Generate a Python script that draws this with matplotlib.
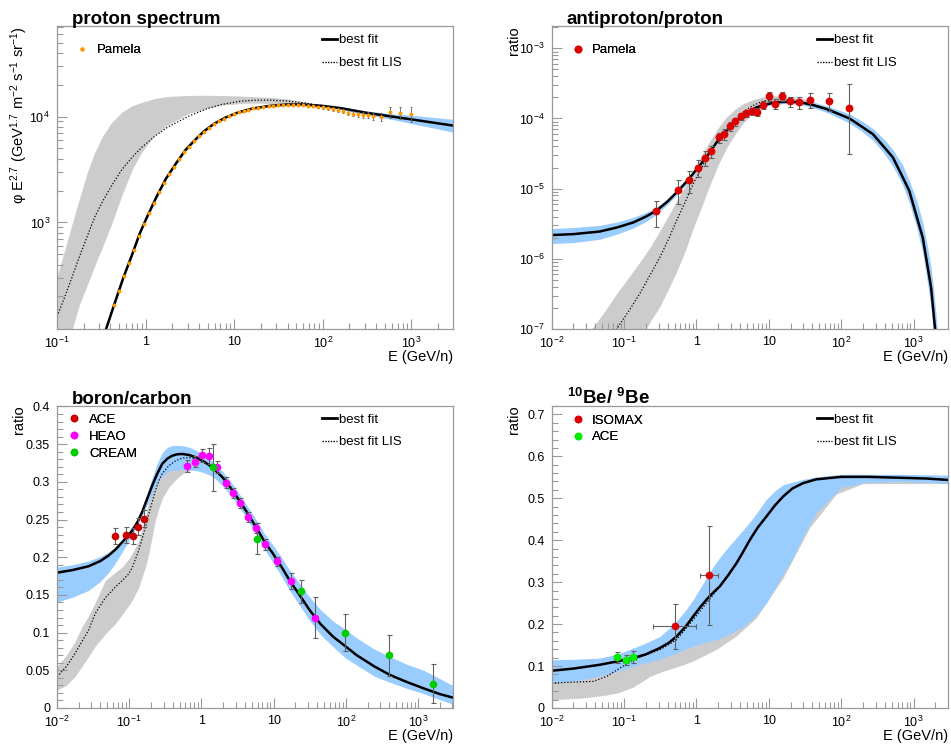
import numpy as np
import matplotlib
matplotlib.use("Agg")
import matplotlib.pyplot as plt
from matplotlib.ticker import FixedLocator, FuncFormatter, LogLocator, MultipleLocator, NullFormatter
from matplotlib.lines import Line2D

plt.rcParams["font.family"] = ["Liberation Sans", "DejaVu Sans"]
plt.rcParams["mathtext.fontset"] = "custom"
plt.rcParams["mathtext.rm"] = "Liberation Sans"
plt.rcParams["mathtext.it"] = "Liberation Sans:italic"
plt.rcParams["mathtext.bf"] = "Liberation Sans:bold"
plt.rcParams["mathtext.default"] = "regular"

GRAY = "#cccccc"
BLUE = "#99ccff"
FRAME = "#999999"
ERRC = "#606060"

# ---------------- proton spectrum ----------------
p_fit_E = [0.36, 0.45, 0.56, 0.7, 0.86, 1.05, 1.33, 1.7, 2.2, 2.8, 3.6, 4.6, 6.0, 8.0, 11, 16, 25, 40, 60, 100, 160, 300, 600, 1000, 3000]
p_fit = [100, 175, 300, 490, 790, 1150, 1750, 2600, 3600, 4800, 6000, 7300, 8600, 9800, 10900, 11900, 12600, 13000, 13000, 12600, 12000, 10900, 10000, 9400, 8200]
p_fit_hi = [104, 182, 311, 506, 814, 1185, 1800, 2670, 3690, 4920, 6140, 7460, 8780, 10000, 11100, 12100, 12800, 13200, 13250, 12900, 12350, 11350, 10600, 10300, 9400]
p_fit_lo = [96, 168, 289, 474, 766, 1115, 1700, 2530, 3510, 4680, 5860, 7140, 8420, 9600, 10700, 11700, 12400, 12800, 12750, 12300, 11650, 10450, 9400, 8600, 7100]

p_lis_E = [0.1, 0.12, 0.147, 0.18, 0.225, 0.27, 0.33, 0.41, 0.54, 0.7, 0.9, 1.27, 1.8, 3.0, 5, 7.2, 12, 17, 25, 40, 60, 100]
p_lis = [130, 190, 300, 480, 780, 1150, 1600, 2200, 3160, 4100, 5100, 6520, 8000, 10000, 11900, 13000, 14000, 14250, 14300, 14000, 13500, 12600]
p_lis_hi = [310, 520, 950, 1700, 3160, 4700, 6600, 8700, 11000, 12600, 13600, 14800, 15500, 15800, 15900, 15800, 15600, 15400, 15200, 14700, 13800, 12800]
p_lis_lo = [55, 75, 95, 170, 270, 400, 600, 950, 1800, 3100, 4600, 6700, 8400, 10600, 12000, 12800, 13300, 13400, 13300, 13200, 13000, 12500]

pam_E = [0.44, 0.50, 0.57, 0.65, 0.74, 0.84, 0.96, 1.09, 1.24, 1.41, 1.61, 1.83, 2.08, 2.37, 2.70, 3.07, 3.50, 3.98, 4.53,
         5.16, 5.87, 6.68, 7.60, 8.65, 9.85, 11.2, 12.8, 14.5, 16.5, 18.8, 21.4, 24.4, 27.7, 31.6, 36.0, 41.0, 46.6, 53.0,
         60.4, 68.7, 78.2, 89.0, 101, 115, 131, 150, 170, 194, 220, 251, 286, 325, 370, 450, 580, 740, 1000]
pam_flux = [165, 227, 311, 411, 547, 738, 966, 1230, 1540, 1920, 2380, 2860, 3360, 3940, 4590, 5210, 5850, 6500, 7200,
            7830, 8480, 9020, 9580, 10070, 10500, 10930, 11290, 11640, 11960, 12170, 12360, 12570, 12680, 12790, 12910,
            12950, 12950, 12900, 12850, 12700, 12550, 12300, 12200, 12000, 11800, 11500, 11200, 10900, 10600, 10500,
            10400, 10300, 10100, 9900, 11000, 10900, 10500]
pam_err = [3, 4, 5, 6, 8, 10, 13, 16, 20, 25, 30, 35, 40, 45, 52, 58, 65, 72, 80, 87, 95, 100, 108, 115, 122, 130, 138,
           145, 152, 160, 170, 180, 190, 200, 215, 230, 245, 260, 280, 300, 330, 360, 390, 420, 450, 480, 510, 540, 570,
           600, 640, 690, 740, 800, 1300, 1500, 1700]

# ---------------- antiproton / proton ----------------
pb_fit_E = [0.01, 0.02, 0.046, 0.08, 0.134, 0.2, 0.28, 0.4, 0.557, 0.75, 1.05, 1.4, 1.89, 2.6, 3.56, 5.0, 6.7, 9.0,
            12.7, 18, 26.6, 40, 62, 90, 130, 190, 273, 380, 515, 700, 870, 1100, 1336, 1550, 1740, 1880, 1990, 2100]
pb_fit = [2.18e-6, 2.25e-6, 2.45e-6, 2.8e-6, 3.3e-6, 4.0e-6, 4.85e-6, 6.6e-6, 9.3e-6, 1.3e-5, 2.0e-5, 2.9e-5, 4.55e-5,
          6.7e-5, 9.4e-5, 1.19e-4, 1.44e-4, 1.58e-4, 1.71e-4, 1.73e-4, 1.71e-4, 1.56e-4, 1.37e-4, 1.17e-4, 1.0e-4,
          7.7e-5, 6.0e-5, 4.04e-5, 2.8e-5, 1.48e-5, 9.3e-6, 4.0e-6, 2.0e-6, 8.0e-7, 3.9e-7, 1.7e-7, 9.3e-8, 4.5e-8]
pb_fit_hi = [2.7e-6, 2.8e-6, 3.0e-6, 3.35e-6, 3.9e-6, 4.6e-6, 5.4e-6, 7.2e-6, 1.0e-5, 1.38e-5, 2.1e-5, 3.0e-5, 4.7e-5,
             6.95e-5, 9.7e-5, 1.26e-4, 1.5e-4, 1.68e-4, 1.8e-4, 1.83e-4, 1.82e-4, 1.7e-4, 1.52e-4, 1.33e-4, 1.16e-4,
             9.3e-5, 7.2e-5, 5.2e-5, 3.6e-5, 2.2e-5, 1.3e-5, 6.8e-6, 3.3e-6, 1.5e-6, 7.5e-7, 3.8e-7, 2.1e-7, 1.1e-7]
pb_fit_lo = [1.65e-6, 1.7e-6, 1.9e-6, 2.25e-6, 2.75e-6, 3.4e-6, 4.3e-6, 6.0e-6, 8.6e-6, 1.22e-5, 1.9e-5, 2.8e-5, 4.4e-5,
             6.5e-5, 9.1e-5, 1.13e-4, 1.38e-4, 1.52e-4, 1.62e-4, 1.64e-4, 1.6e-4, 1.43e-4, 1.23e-4, 1.03e-4, 8.6e-5,
             6.6e-5, 4.9e-5, 3.3e-5, 2.1e-5, 1.15e-5, 6.3e-6, 2.8e-6, 1.2e-6, 4.6e-7, 2.0e-7, 8.5e-8, 4e-8, 2e-8]

pb_lis_E = [0.03, 0.05, 0.079, 0.12, 0.165, 0.227, 0.312, 0.42, 0.53, 0.7, 0.9, 1.15, 1.52, 2.0, 2.6, 3.4, 4.4, 6.0,
            8.3, 11.5, 15.7, 22, 30, 45, 70, 100]
pb_lis = [1.8e-8, 4.5e-8, 1.0e-7, 1.9e-7, 3.2e-7, 5.8e-7, 1.05e-6, 2.0e-6, 3.5e-6, 6.5e-6, 1.17e-5, 1.9e-5, 3.2e-5,
          4.9e-5, 7.1e-5, 9.5e-5, 1.23e-4, 1.53e-4, 1.77e-4, 1.86e-4, 1.87e-4, 1.82e-4, 1.72e-4, 1.53e-4, 1.32e-4, 1.13e-4]
pb_lis_hi = [8e-8, 1.6e-7, 3.2e-7, 5.7e-7, 9e-7, 1.45e-6, 2.5e-6, 4.3e-6, 6.7e-6, 1.1e-5, 1.75e-5, 2.9e-5, 4.7e-5,
             7.4e-5, 1.05e-4, 1.35e-4, 1.62e-4, 1.85e-4, 2.03e-4, 2.1e-4, 2.1e-4, 2.05e-4, 1.92e-4, 1.68e-4, 1.4e-4, 1.16e-4]
pb_lis_lo = [5e-9, 1e-8, 2e-8, 4e-8, 7e-8, 1.25e-7, 2.1e-7, 3.9e-7, 6.5e-7, 1.3e-6, 2.7e-6, 5.2e-6, 1.1e-5, 2.2e-5,
             3.8e-5, 5.9e-5, 8.6e-5, 1.2e-4, 1.45e-4, 1.58e-4, 1.63e-4, 1.62e-4, 1.55e-4, 1.4e-4, 1.22e-4, 1.05e-4]

pbd_E = [0.278, 0.547, 0.79, 1.05, 1.31, 1.59, 2.03, 2.4, 2.88, 3.45, 4.09, 4.9, 5.8, 6.9, 8.3, 9.9, 12.3, 15, 19.4,
         26, 37, 67, 127]
pbd_val = [4.74e-6, 9.7e-6, 1.32e-5, 2.0e-5, 2.75e-5, 3.4e-5, 5.4e-5, 6.0e-5, 7.8e-5, 9.1e-5, 1.07e-4, 1.19e-4,
           1.26e-4, 1.23e-4, 1.57e-4, 2.08e-4, 1.62e-4, 2.08e-4, 1.75e-4, 1.69e-4, 1.85e-4, 1.79e-4, 1.41e-4]
pbd_err_lo = [1.9e-6, 3.6e-6, 4.5e-6, 5.5e-6, 6.5e-6, 7e-6, 9e-6, 1e-5, 1.1e-5, 1.2e-5, 1.3e-5, 1.4e-5, 1.5e-5,
              1.6e-5, 1.9e-5, 3.2e-5, 2.6e-5, 3.3e-5, 3e-5, 3.3e-5, 4.3e-5, 5.3e-5, 1.1e-4]
pbd_err_hi = [1.9e-6, 3.6e-6, 4.5e-6, 5.5e-6, 6.5e-6, 7e-6, 9e-6, 1e-5, 1.1e-5, 1.2e-5, 1.3e-5, 1.4e-5, 1.5e-5,
              1.6e-5, 1.9e-5, 3.2e-5, 2.6e-5, 3.3e-5, 3e-5, 3.3e-5, 4.3e-5, 5.3e-5, 1.7e-4]

# ---------------- boron / carbon ----------------
bc_fit_E = [0.01, 0.0165, 0.0273, 0.04, 0.052, 0.065, 0.08, 0.095, 0.11, 0.13, 0.151, 0.178, 0.208, 0.245, 0.287,
            0.34, 0.395, 0.46, 0.545, 0.68, 0.836, 1.1, 1.43, 2.0, 2.71, 4.0, 5.7, 7.5, 9.8, 13, 16.6, 23, 31.6, 45,
            67, 100, 141, 250, 411, 700, 1200, 2000, 3300]
bc_fit = [0.1795, 0.183, 0.188, 0.195, 0.2024, 0.2105, 0.22, 0.228, 0.2355, 0.2465, 0.26, 0.278, 0.295, 0.311, 0.324,
          0.331, 0.3347, 0.3365, 0.337, 0.3355, 0.3325, 0.3265, 0.319, 0.305, 0.2885, 0.264, 0.24, 0.2205, 0.2047,
          0.1865, 0.1694, 0.1495, 0.1297, 0.111, 0.0944, 0.0815, 0.0701, 0.055, 0.0437, 0.0345, 0.026, 0.0185, 0.0128]
bc_fit_hi = [0.187, 0.19, 0.195, 0.201, 0.207, 0.214, 0.222, 0.23, 0.238, 0.25, 0.265, 0.285, 0.305, 0.325, 0.339,
             0.346, 0.348, 0.3485, 0.348, 0.346, 0.342, 0.335, 0.327, 0.313, 0.297, 0.273, 0.25, 0.231, 0.216, 0.199,
             0.183, 0.165, 0.147, 0.13, 0.115, 0.104, 0.093, 0.078, 0.068, 0.058, 0.05, 0.039, 0.028]
bc_fit_lo = [0.1406, 0.147, 0.156, 0.168, 0.18, 0.193, 0.207, 0.219, 0.23, 0.243, 0.255, 0.27, 0.284, 0.298, 0.308,
             0.313, 0.315, 0.3155, 0.316, 0.316, 0.315, 0.312, 0.307, 0.294, 0.279, 0.255, 0.23, 0.21, 0.193, 0.174,
             0.156, 0.136, 0.116, 0.097, 0.081, 0.066, 0.057, 0.042, 0.034, 0.026, 0.019, 0.011, 0.004]

bc_lis_E = [0.01, 0.0135, 0.0178, 0.0221, 0.0273, 0.0338, 0.0466, 0.0643, 0.08, 0.0985, 0.11, 0.1356, 0.168, 0.187,
            0.23, 0.258, 0.287, 0.355, 0.44, 0.545, 0.7, 0.93, 1.3, 2.0]
bc_lis = [0.0414, 0.055, 0.0724, 0.088, 0.103, 0.1253, 0.146, 0.1605, 0.169, 0.178, 0.186, 0.209, 0.24, 0.2576, 0.288,
          0.3017, 0.311, 0.3215, 0.328, 0.3317, 0.332, 0.329, 0.322, 0.305]
bc_lis_hi = [0.0547, 0.07, 0.088, 0.1076, 0.122, 0.14, 0.169, 0.18, 0.187, 0.198, 0.205, 0.222, 0.255, 0.275, 0.298,
             0.306, 0.3126, 0.318, 0.3237, 0.327, 0.329, 0.327, 0.322, 0.306]
bc_lis_lo = [0.0238, 0.03, 0.042, 0.055, 0.068, 0.082, 0.098, 0.112, 0.124, 0.136, 0.143, 0.16, 0.187, 0.205, 0.249,
             0.265, 0.278, 0.293, 0.303, 0.3105, 0.315, 0.317, 0.316, 0.302]

ace_bc_E = [0.0645, 0.089, 0.113, 0.133, 0.158]
ace_bc = [0.228, 0.2293, 0.228, 0.2405, 0.251]
ace_bc_err = [0.011, 0.011, 0.011, 0.011, 0.011]
heao_E = [0.64, 0.817, 1.01, 1.28, 1.65, 2.19, 2.74, 3.46, 4.47, 5.78, 7.7, 11.2, 17.2, 37]
heao = [0.3206, 0.3268, 0.3352, 0.3343, 0.3193, 0.299, 0.285, 0.2717, 0.2536, 0.239, 0.217, 0.1945, 0.1685, 0.12]
heao_err = [0.008, 0.007, 0.009, 0.01, 0.008, 0.007, 0.007, 0.007, 0.007, 0.007, 0.007, 0.006, 0.01, 0.027]
cream_E = [1.43, 5.9, 24.3, 97, 394, 1590]
cream = [0.3193, 0.2245, 0.1548, 0.1, 0.0701, 0.0322]
cream_err = [0.031, 0.0205, 0.015, 0.025, 0.027, 0.026]

# ---------------- 10Be / 9Be ----------------
be_fit_E = [0.01, 0.02, 0.046, 0.08, 0.134, 0.2, 0.312, 0.42, 0.53, 0.7, 0.898, 1.1, 1.37, 1.7, 2.1, 2.7, 3.56, 4.4,
            5.43, 7.0, 9.2, 12, 15.7, 21, 29.7, 45, 100, 230, 600, 1500, 2950]
be_fit = [0.0888, 0.094, 0.103, 0.111, 0.119, 0.128, 0.143, 0.156, 0.1705, 0.193, 0.218, 0.238, 0.258, 0.275, 0.29,
          0.315, 0.345, 0.372, 0.40, 0.43, 0.456, 0.482, 0.504, 0.523, 0.536, 0.545, 0.551, 0.551, 0.549, 0.547, 0.5437]
be_fit_hi = [0.115, 0.116, 0.119, 0.128, 0.143, 0.155, 0.1705, 0.19, 0.207, 0.232, 0.258, 0.283, 0.31, 0.337, 0.359,
             0.382, 0.406, 0.4245, 0.443, 0.468, 0.497, 0.517, 0.532, 0.538, 0.545, 0.551, 0.557, 0.557, 0.557, 0.556, 0.555]
be_fit_lo = [0.0595, 0.064, 0.076, 0.087, 0.1, 0.107, 0.117, 0.125, 0.131, 0.14, 0.147, 0.152, 0.157, 0.161, 0.166,
             0.175, 0.185, 0.194, 0.207, 0.225, 0.25, 0.285, 0.32, 0.355, 0.41, 0.465, 0.526, 0.538, 0.54, 0.538, 0.535]

be_band_E = [0.01, 0.0273, 0.0375, 0.0574, 0.079, 0.0876, 0.134, 0.227, 0.312, 0.53, 0.653, 0.898, 1.37, 1.89, 3.56,
             6.7, 15.7, 36.6, 85, 200, 3000]
be_lis_hi = [0.075, 0.076, 0.078, 0.085, 0.098, 0.1, 0.12, 0.13, 0.14, 0.16, 0.175, 0.2, 0.24, 0.27, 0.33, 0.41, 0.5,
             0.54, 0.55, 0.552, 0.55]
be_lis_lo = [0.0198, 0.0238, 0.027, 0.031, 0.0357, 0.038, 0.05, 0.075, 0.085, 0.098, 0.103, 0.112, 0.128, 0.14, 0.172,
             0.215, 0.31, 0.43, 0.51, 0.535, 0.535]
be_lis_E = [0.01, 0.0375, 0.0574, 0.0876, 0.134, 0.2, 0.312, 0.53, 0.898, 1.37, 1.9, 2.1]
be_lis = [0.0595, 0.0635, 0.0752, 0.0952, 0.115, 0.127, 0.1388, 0.1626, 0.21, 0.25, 0.28, 0.29]

isomax_E = [0.507, 1.51]
isomax = [0.1943, 0.3167]
isomax_yerr = [0.053, 0.118]
isomax_xlo = [0.255, 0.375]
isomax_xhi = [0.493, 0.48]
ace_be_E = [0.081, 0.107, 0.132]
ace_be = [0.1214, 0.1143, 0.1214]
ace_be_yerr = [0.013, 0.012, 0.015]
ace_be_xerr = [0.008, 0.01, 0.012]


def decade_label(v, pos):
    if np.isclose(v, 1):
        return "1"
    if np.isclose(v, 10):
        return "10"
    return r"$10^{%d}$" % int(round(np.log10(v)))


def style_axes(ax):
    for s in ax.spines.values():
        s.set_color(FRAME)
        s.set_linewidth(0.9)
    ax.tick_params(which="both", direction="in", top=False, right=False, colors=FRAME,
                   labelcolor="black", labelsize=9)
    ax.tick_params(which="major", length=7, width=0.8)
    ax.tick_params(which="minor", length=4, width=0.8)
    ax.tick_params(axis="x", pad=5)
    ax.tick_params(axis="y", pad=5)


def log_xaxis(ax, lo, hi, majors):
    ax.set_xscale("log")
    ax.set_xlim(lo, hi)
    ax.xaxis.set_major_locator(FixedLocator(majors))
    ax.xaxis.set_major_formatter(FuncFormatter(decade_label))
    ax.xaxis.set_minor_locator(LogLocator(base=10, subs=range(2, 10), numticks=50))
    ax.xaxis.set_minor_formatter(NullFormatter())
    ax.set_xlabel("E (GeV/n)", fontsize=10.5, loc="right")
    ax.xaxis.set_label_coords(1.0, -0.068)


def labels(ax, title, ylabel, ypos=-0.078):
    ax.text(0.038, 1.006, title, transform=ax.transAxes, fontsize=13.5, fontweight="bold",
            ha="left", va="baseline")
    ax.set_ylabel(ylabel, fontsize=10.5, loc="top")
    ax.yaxis.set_label_coords(ypos, 1.0)


def fit_legend(ax, x0, y0, spacing):
    h = [Line2D([], [], color="black", lw=2.0), Line2D([], [], color="black", lw=1.0, ls=(0, (1, 1)))]
    leg = ax.legend(h, ["best fit", "best fit LIS"], loc="upper left", bbox_to_anchor=(x0, y0),
                    frameon=False, fontsize=9.5, handlelength=1.15, handletextpad=0.15, borderpad=0,
                    borderaxespad=0, labelspacing=spacing)
    ax.add_artist(leg)


def data_legend(ax, handles, names, x0, y0, spacing, pad):
    leg = ax.legend(handles, names, loc="upper left", bbox_to_anchor=(x0, y0), frameon=False, fontsize=9.5,
                    handlelength=1.0, handletextpad=pad, borderpad=0, borderaxespad=0, labelspacing=spacing)
    ax.add_artist(leg)


fig = plt.figure(figsize=(9.51, 7.47), dpi=100)
W, H = 951.0, 747.0


def make_axes(left, top, right, bottom):
    return fig.add_axes([left / W, 1 - bottom / H, (right - left) / W, (bottom - top) / H])


ax1 = make_axes(57, 26, 453, 329)
ax2 = make_axes(551.7, 26, 948, 329)
ax3 = make_axes(57, 405.7, 453, 708)
ax4 = make_axes(551.7, 405.7, 948, 708)

# --- panel 1
ax = ax1
ax.fill_between(p_lis_E, p_lis_lo, p_lis_hi, color=GRAY, lw=0)
ax.fill_between(p_fit_E, p_fit_lo, p_fit_hi, color=BLUE, lw=0)
ax.plot(p_lis_E, p_lis, color="black", lw=0.9, ls=(0, (1, 1.5)))
ax.plot(p_fit_E, p_fit, color="black", lw=1.8)
ax.errorbar(pam_E, pam_flux, yerr=pam_err, fmt="o", ms=1.8, color="#ff9900", mec="#ff9900",
            ecolor=ERRC, elinewidth=0.6, capsize=1.0, capthick=0.6, zorder=5)
ax.set_yscale("log")
ax.set_ylim(98.6, 71600)
ax.yaxis.set_major_locator(FixedLocator([1e3, 1e4]))
ax.yaxis.set_major_formatter(FuncFormatter(decade_label))
ax.yaxis.set_minor_locator(LogLocator(base=10, subs=range(2, 10), numticks=50))
ax.yaxis.set_minor_formatter(NullFormatter())
log_xaxis(ax, 0.1, 2950, [0.1, 1, 10, 100, 1000])
labels(ax, "proton spectrum", r"φ E$^{2.7}$ (GeV$^{1.7}$ m$^{-2}$ s$^{-1}$ sr$^{-1}$)", -0.068)
fit_legend(ax, 0.669, 0.973, 0.81)
data_legend(ax, [Line2D([], [], ls="none", marker="o", ms=2.0, color="#ff9900")], ["Pamela"],
            0.046, 0.940, 0.1, 0.64)
style_axes(ax)

# --- panel 2
ax = ax2
ax.fill_between(pb_lis_E, pb_lis_lo, pb_lis_hi, color=GRAY, lw=0)
ax.fill_between(pb_fit_E, pb_fit_lo, pb_fit_hi, color=BLUE, lw=0)
ax.plot(pb_lis_E, pb_lis, color="black", lw=0.9, ls=(0, (1, 1.5)))
ax.plot(pb_fit_E, pb_fit, color="black", lw=1.8)
ax.errorbar(pbd_E, pbd_val, yerr=[pbd_err_lo, pbd_err_hi], fmt="o", ms=4.6, color="#dd0000", mec="#dd0000",
            ecolor=ERRC, elinewidth=0.8, capsize=1.8, capthick=0.8, zorder=5)
ax.set_yscale("log")
ax.set_ylim(1e-7, 2.08e-3)
ax.yaxis.set_major_locator(FixedLocator([1e-7, 1e-6, 1e-5, 1e-4, 1e-3]))
ax.yaxis.set_major_formatter(FuncFormatter(decade_label))
ax.yaxis.set_minor_locator(LogLocator(base=10, subs=range(2, 10), numticks=50))
ax.yaxis.set_minor_formatter(NullFormatter())
log_xaxis(ax, 0.01, 2980, [0.01, 0.1, 1, 10, 100, 1000])
labels(ax, "antiproton/proton", "ratio")
fit_legend(ax, 0.669, 0.973, 0.81)
data_legend(ax, [Line2D([], [], ls="none", marker="o", ms=4.6, color="#dd0000")], ["Pamela"],
            0.049, 0.940, 0.1, 0.58)
style_axes(ax)

# --- panel 3
ax = ax3
ax.fill_between(bc_lis_E, bc_lis_lo, bc_lis_hi, color=GRAY, lw=0)
ax.fill_between(bc_fit_E, bc_fit_lo, bc_fit_hi, color=BLUE, lw=0)
ax.plot(bc_lis_E, bc_lis, color="black", lw=0.9, ls=(0, (1, 1.5)))
ax.plot(bc_fit_E, bc_fit, color="black", lw=1.8)
for xs, ys, es, c in [(ace_bc_E, ace_bc, ace_bc_err, "#cc0000"), (heao_E, heao, heao_err, "#ff00ff"),
                      (cream_E, cream, cream_err, "#00cc00")]:
    ax.errorbar(xs, ys, yerr=es, fmt="o", ms=4.5, color=c, mec=c, ecolor=ERRC, elinewidth=0.8,
                capsize=1.8, capthick=0.8, zorder=5)
ax.set_ylim(0, 0.401)
ax.yaxis.set_major_locator(MultipleLocator(0.05))
ax.yaxis.set_minor_locator(MultipleLocator(0.01))
ax.yaxis.set_major_formatter(FuncFormatter(lambda v, p: "0" if abs(v) < 1e-9 else ("%g" % round(v, 2))))
log_xaxis(ax, 0.01, 3050, [0.01, 0.1, 1, 10, 100, 1000])
labels(ax, "boron/carbon", "ratio")
fit_legend(ax, 0.669, 0.973, 0.75)
data_legend(ax, [Line2D([], [], ls="none", marker="o", ms=4.5, color=c) for c in ["#cc0000", "#ff00ff", "#00cc00"]],
            ["ACE", "HEAO", "CREAM"], 0.026, 0.973, 0.34, 0.64)
style_axes(ax)

# --- panel 4
ax = ax4
ax.fill_between(be_band_E, be_lis_lo, be_lis_hi, color=GRAY, lw=0)
ax.fill_between(be_fit_E, be_fit_lo, be_fit_hi, color=BLUE, lw=0)
ax.plot(be_lis_E, be_lis, color="black", lw=0.9, ls=(0, (1, 1.5)))
ax.plot(be_fit_E, be_fit, color="black", lw=1.8)
ax.errorbar(isomax_E, isomax, yerr=isomax_yerr, xerr=[isomax_xlo, isomax_xhi], fmt="o", ms=4.5, color="#dd0000",
            mec="#dd0000", ecolor=ERRC, elinewidth=0.8, capsize=1.8, capthick=0.8, zorder=5)
ax.errorbar(ace_be_E, ace_be, yerr=ace_be_yerr, xerr=ace_be_xerr, fmt="o", ms=4.5, color="#00ee00", mec="#00ee00",
            ecolor=ERRC, elinewidth=0.8, capsize=1.8, capthick=0.8, zorder=5)
ax.set_ylim(0, 0.7206)
ax.yaxis.set_major_locator(MultipleLocator(0.1))
ax.yaxis.set_minor_locator(MultipleLocator(0.02))
ax.yaxis.set_major_formatter(FuncFormatter(lambda v, p: "0" if abs(v) < 1e-9 else ("%g" % round(v, 2))))
log_xaxis(ax, 0.01, 2980, [0.01, 0.1, 1, 10, 100, 1000])
labels(ax, r"$^{10}$Be/ $^{9}$Be", "ratio")
fit_legend(ax, 0.669, 0.973, 0.75)
data_legend(ax, [Line2D([], [], ls="none", marker="o", ms=4.5, color=c) for c in ["#dd0000", "#00ee00"]],
            ["ISOMAX", "ACE"], 0.049, 0.971, 0.34, 0.58)
style_axes(ax)

fig.savefig("out.png", dpi=100)
